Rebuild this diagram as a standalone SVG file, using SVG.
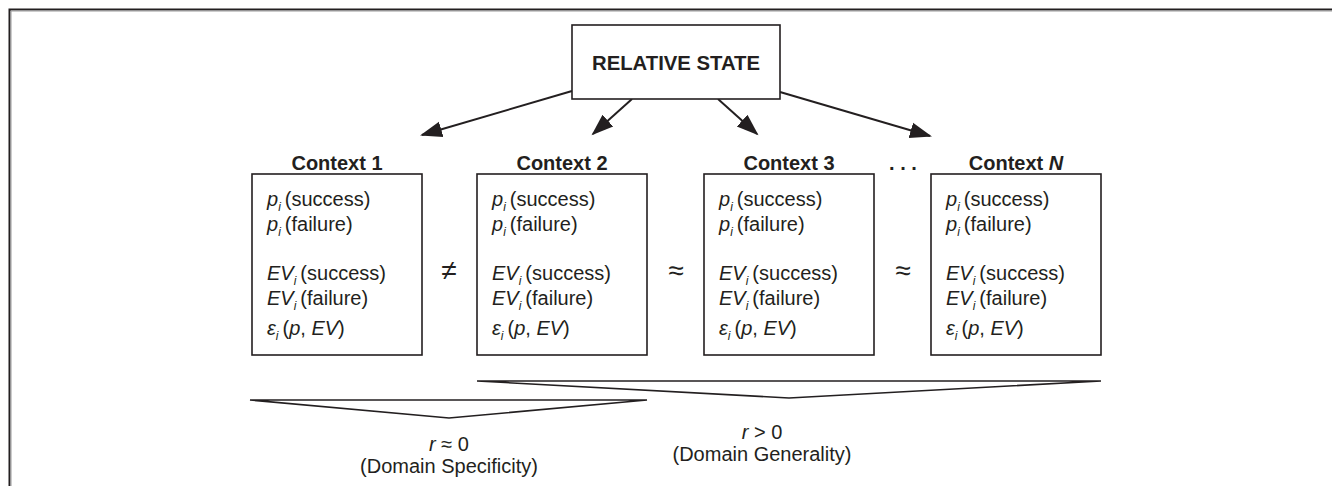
<svg xmlns="http://www.w3.org/2000/svg" width="1332" height="486" viewBox="0 0 1332 486">
<style>
text{font-family:"Liberation Sans",Arial,sans-serif;fill:#231f20}
.t{font-size:20px}
.h{font-size:20px;font-weight:bold;text-anchor:middle}
.it{font-style:italic}
.sub{font-size:12px;font-style:italic}
.box{fill:#fff;stroke:#231f20;stroke-width:1.6}
.ar{stroke:#231f20;stroke-width:2;fill:none;marker-end:url(#ah)}
.br{stroke:#231f20;stroke-width:1.6;fill:none;stroke-linejoin:miter}
.sym{font-size:28px;text-anchor:middle}
.lb{font-size:20px;text-anchor:middle}
</style>
<defs>
<marker id="ah" markerUnits="userSpaceOnUse" markerWidth="24" markerHeight="18" refX="20" refY="8" orient="auto" viewBox="0 0 24 16">
<path d="M0,0 L22,8 L0,16 Z" fill="#231f20"/>
</marker>
</defs>
<rect width="1332" height="486" fill="#fff"/>
<g id="frame">
<path d="M9.5,486 V9.5 H1332" fill="none" stroke="#231f20" stroke-width="2"/>
<path d="M11,486 V11 H1332" fill="none" stroke="#9a9a9a" stroke-width="1"/>
</g>
<g id="connectors">
<line class="ar" x1="572" y1="91" x2="422" y2="135"/>
<line class="ar" x1="632" y1="99" x2="593" y2="134"/>
<line class="ar" x1="718" y1="99" x2="757" y2="134"/>
<line class="ar" x1="780" y1="92" x2="930" y2="136"/>
<path class="br" d="M250,400 H647 L449,418 Z"/>
<path class="br" d="M477,381 H1101 L789,398 Z"/>
</g>
<g id="relative-state">
<rect class="box" x="572" y="25" width="208" height="74"/>
<text x="676" y="70" text-anchor="middle" font-size="21" font-weight="bold" textLength="168" lengthAdjust="spacingAndGlyphs">RELATIVE STATE</text>
</g>
<g id="context1">
<text class="h" x="337" y="170">Context 1</text>
<rect class="box" x="252" y="174" width="170" height="181"/>
<text class="t" x="267" y="206"><tspan class="it">p</tspan><tspan class="sub" dy="5">i</tspan><tspan dy="-5" dx="4">(success)</tspan></text>
<text class="t" x="267" y="231"><tspan class="it">p</tspan><tspan class="sub" dy="5">i</tspan><tspan dy="-5" dx="4">(failure)</tspan></text>
<text class="t" x="267" y="280"><tspan class="it">EV</tspan><tspan class="sub" dy="5">i</tspan><tspan dy="-5" dx="4">(success)</tspan></text>
<text class="t" x="267" y="305"><tspan class="it">EV</tspan><tspan class="sub" dy="5">i</tspan><tspan dy="-5" dx="4">(failure)</tspan></text>
<text class="t" x="267" y="335"><tspan class="it">ε</tspan><tspan class="sub" dy="5">i</tspan><tspan dy="-5" dx="4">(</tspan><tspan class="it">p</tspan>, <tspan class="it">EV</tspan>)</text>
</g>
<g id="context2">
<text class="h" x="562" y="170">Context 2</text>
<rect class="box" x="477" y="174" width="170" height="181"/>
<text class="t" x="492" y="206"><tspan class="it">p</tspan><tspan class="sub" dy="5">i</tspan><tspan dy="-5" dx="4">(success)</tspan></text>
<text class="t" x="492" y="231"><tspan class="it">p</tspan><tspan class="sub" dy="5">i</tspan><tspan dy="-5" dx="4">(failure)</tspan></text>
<text class="t" x="492" y="280"><tspan class="it">EV</tspan><tspan class="sub" dy="5">i</tspan><tspan dy="-5" dx="4">(success)</tspan></text>
<text class="t" x="492" y="305"><tspan class="it">EV</tspan><tspan class="sub" dy="5">i</tspan><tspan dy="-5" dx="4">(failure)</tspan></text>
<text class="t" x="492" y="335"><tspan class="it">ε</tspan><tspan class="sub" dy="5">i</tspan><tspan dy="-5" dx="4">(</tspan><tspan class="it">p</tspan>, <tspan class="it">EV</tspan>)</text>
</g>
<g id="context3">
<text class="h" x="789" y="170">Context 3</text>
<rect class="box" x="704" y="174" width="170" height="181"/>
<text class="t" x="719" y="206"><tspan class="it">p</tspan><tspan class="sub" dy="5">i</tspan><tspan dy="-5" dx="4">(success)</tspan></text>
<text class="t" x="719" y="231"><tspan class="it">p</tspan><tspan class="sub" dy="5">i</tspan><tspan dy="-5" dx="4">(failure)</tspan></text>
<text class="t" x="719" y="280"><tspan class="it">EV</tspan><tspan class="sub" dy="5">i</tspan><tspan dy="-5" dx="4">(success)</tspan></text>
<text class="t" x="719" y="305"><tspan class="it">EV</tspan><tspan class="sub" dy="5">i</tspan><tspan dy="-5" dx="4">(failure)</tspan></text>
<text class="t" x="719" y="335"><tspan class="it">ε</tspan><tspan class="sub" dy="5">i</tspan><tspan dy="-5" dx="4">(</tspan><tspan class="it">p</tspan>, <tspan class="it">EV</tspan>)</text>
</g>
<g id="contextN">
<text class="h" x="1016" y="170">Context <tspan class="it">N</tspan></text>
<rect class="box" x="931" y="174" width="170" height="181"/>
<text class="t" x="946" y="206"><tspan class="it">p</tspan><tspan class="sub" dy="5">i</tspan><tspan dy="-5" dx="4">(success)</tspan></text>
<text class="t" x="946" y="231"><tspan class="it">p</tspan><tspan class="sub" dy="5">i</tspan><tspan dy="-5" dx="4">(failure)</tspan></text>
<text class="t" x="946" y="280"><tspan class="it">EV</tspan><tspan class="sub" dy="5">i</tspan><tspan dy="-5" dx="4">(success)</tspan></text>
<text class="t" x="946" y="305"><tspan class="it">EV</tspan><tspan class="sub" dy="5">i</tspan><tspan dy="-5" dx="4">(failure)</tspan></text>
<text class="t" x="946" y="335"><tspan class="it">ε</tspan><tspan class="sub" dy="5">i</tspan><tspan dy="-5" dx="4">(</tspan><tspan class="it">p</tspan>, <tspan class="it">EV</tspan>)</text>
</g>
<g id="symbols">
<text class="h" x="903" y="170">. . .</text>
<text class="sym" x="449" y="280">≠</text>
<text class="sym" x="676" y="280">≈</text>
<text class="sym" x="903" y="280">≈</text>
</g>
<g id="labels">
<text class="lb" x="449" y="451"><tspan class="it">r</tspan> ≈ 0</text>
<text class="lb" x="449" y="473">(Domain Specificity)</text>
<text class="lb" x="762" y="439"><tspan class="it">r</tspan> &gt; 0</text>
<text class="lb" x="762" y="461">(Domain Generality)</text>
</g>
</svg>
